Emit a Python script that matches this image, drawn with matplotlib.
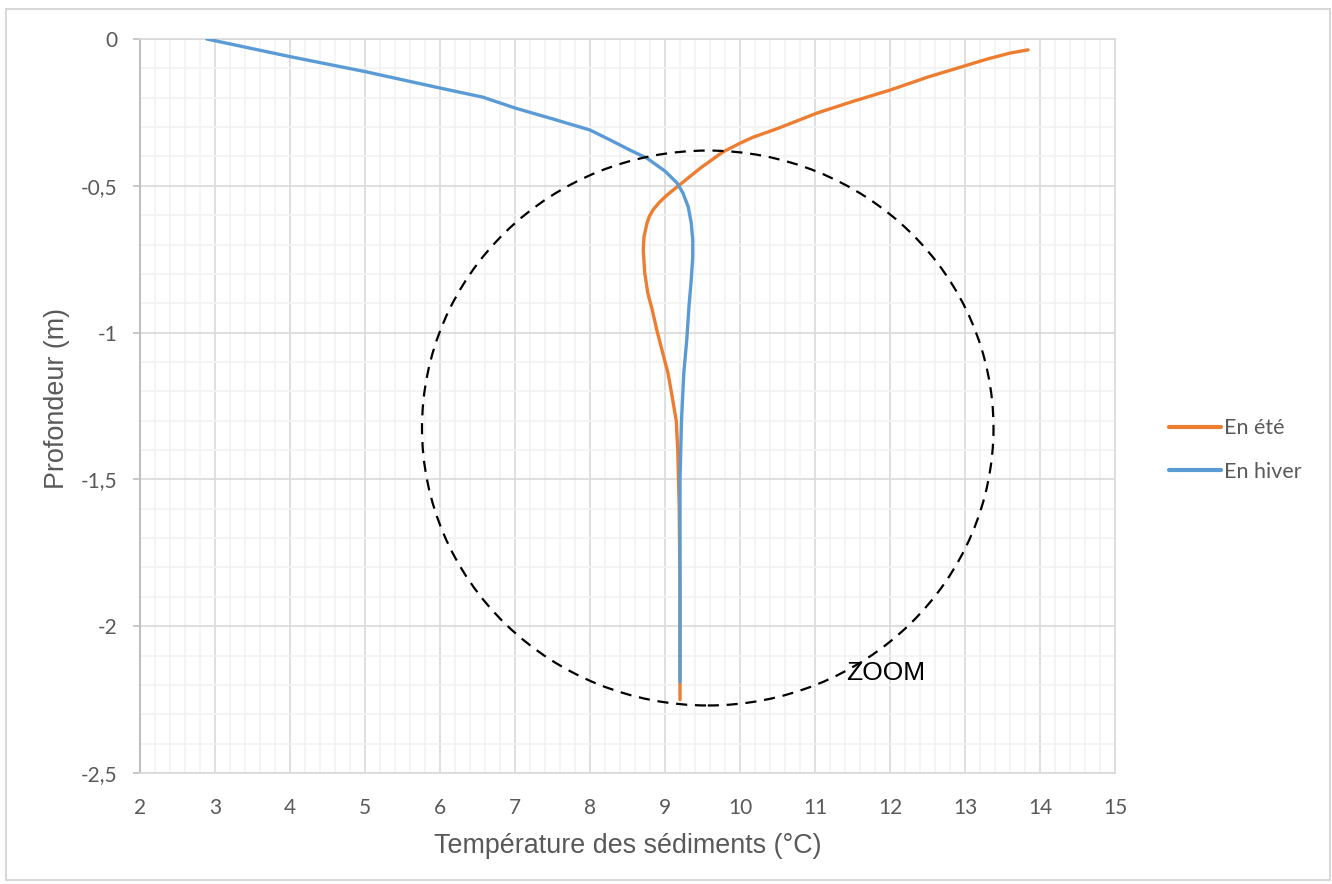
"""
Profils de température des sédiments — été / hiver
"""
import matplotlib
matplotlib.use('Agg')
import matplotlib.pyplot as plt
from matplotlib.patches import Ellipse, Rectangle
from matplotlib.ticker import MultipleLocator, FuncFormatter

TICK_FONT = ['Lato', 'DejaVu Sans']
LABEL_FONT = ['Liberation Sans', 'DejaVu Sans']
GREY_TXT = '#595959'

# 1. Données

ete_temp = [13.84, 13.6, 13.3, 13.03, 12.5, 12.0, 11.5, 11.03, 10.5, 10.17,
            10.0, 9.77, 9.47, 9.16, 9.03, 8.93, 8.84, 8.79, 8.76, 8.72, 8.71, 8.73,
            8.77, 8.83, 8.89, 8.97, 9.04, 9.09, 9.15, 9.17, 9.19, 9.2, 9.2]
ete_prof = [-0.037, -0.048, -0.068, -0.089, -0.13, -0.174, -0.213, -0.252, -0.305, -0.335,
            -0.355, -0.385, -0.44, -0.504, -0.531, -0.555, -0.582, -0.605, -0.627, -0.674, -0.72, -0.797,
            -0.865, -0.923, -0.99, -1.07, -1.138, -1.21, -1.30, -1.40, -1.6, -1.9, -2.25]

hiver_temp = [2.89, 4.0, 5.0, 6.0, 6.57, 7.0, 7.5, 8.0, 8.27, 8.53,
              8.76, 9.0, 9.16, 9.24, 9.31, 9.35, 9.37, 9.37, 9.35,
              9.32, 9.29, 9.25, 9.22, 9.2, 9.2]
hiver_prof = [0.0, -0.06, -0.111, -0.167, -0.198, -0.235, -0.272, -0.31, -0.344, -0.378,
              -0.406, -0.45, -0.49, -0.525, -0.572, -0.627, -0.685, -0.742, -0.82,
              -0.91, -1.025, -1.14, -1.3, -1.5, -2.19]

# cercle "ZOOM" (centre, largeur, hauteur en unités des axes)
zoom_centre = (9.57, -1.325)
zoom_largeur = 7.62
zoom_hauteur = 1.89
zoom_texte_pos = (11.42, -2.16)

# 2. Figure

fig = plt.figure(figsize=(13.32, 8.84), dpi=100)
fig.patches.append(Rectangle((6 / 1332, 4 / 884), 1324 / 1332, 871 / 884,
                             transform=fig.transFigure, fill=False,
                             edgecolor='#D9D9D9', linewidth=1.5))
ax = fig.add_axes([140 / 1332, 1 - 773 / 884, 975 / 1332, 734 / 884])

ax.plot(ete_temp, ete_prof, color='#ED7D31', linewidth=2.4,
        solid_capstyle='round', solid_joinstyle='round', label='En été', zorder=3)
ax.plot(hiver_temp, hiver_prof, color='#5B9BD5', linewidth=2.4,
        solid_capstyle='round', solid_joinstyle='round', label='En hiver', zorder=4)

ax.add_patch(Ellipse(zoom_centre, zoom_largeur, zoom_hauteur, fill=False,
                     edgecolor='black', linewidth=1.6, linestyle=(0, (5, 3.5)),
                     zorder=5))
ax.text(*zoom_texte_pos, 'ZOOM', fontsize=19, family=LABEL_FONT,
        color='black', va='center', ha='left', zorder=6)

ax.set_xlim(2, 15)
ax.set_ylim(-2.5, 0)
ax.xaxis.set_major_locator(MultipleLocator(1))
ax.xaxis.set_minor_locator(MultipleLocator(0.2))
ax.yaxis.set_major_locator(MultipleLocator(0.5))
ax.yaxis.set_minor_locator(MultipleLocator(0.1))
ax.yaxis.set_major_formatter(FuncFormatter(lambda v, p: f'{v:g}'.replace('.', ',')))

ax.grid(which='major', color='#D9D9D9', linewidth=1.2, zorder=1)
ax.grid(which='minor', color='#F2F2F2', linewidth=1.2, zorder=0)
ax.set_axisbelow(True)

for side in ['top', 'right', 'bottom']:
    ax.spines[side].set_color('#D9D9D9')
    ax.spines[side].set_linewidth(1.2)
ax.spines['left'].set_color('#BFBFBF')
ax.spines['left'].set_linewidth(1.5)

ax.tick_params(axis='x', which='both', length=0, pad=18, labelsize=15,
               labelcolor=GREY_TXT)
ax.tick_params(axis='y', which='major', length=5, width=1.2, color='#BFBFBF',
               pad=11, labelsize=15, labelcolor=GREY_TXT)
ax.tick_params(axis='y', which='minor', length=0)
for lab in ax.get_xticklabels() + ax.get_yticklabels():
    lab.set_family(TICK_FONT)

ax.set_xlabel('Température des sédiments (°C)', fontsize=19.4, family=LABEL_FONT,
              color=GREY_TXT, va='center')
ax.set_ylabel('Profondeur (m)', fontsize=19.4, family=LABEL_FONT, color=GREY_TXT,
              va='center')
ax.xaxis.set_label_coords(0.5, -0.0995)
ax.yaxis.set_label_coords(-0.085, 0.51)

leg = ax.legend(loc='center left', bbox_to_anchor=(1150 / 1332, 1 - 450 / 884),
                bbox_transform=fig.transFigure, frameon=False,
                handlelength=2.4, handletextpad=0.15, labelspacing=1.1,
                prop={'family': TICK_FONT, 'size': 15.5})
for t in leg.get_texts():
    t.set_color(GREY_TXT)
for h in leg.legend_handles:
    h.set_linewidth(3)

out = 'out.png'
fig.savefig(out, dpi=100)
print(f'saved {out}')
plt.close(fig)
